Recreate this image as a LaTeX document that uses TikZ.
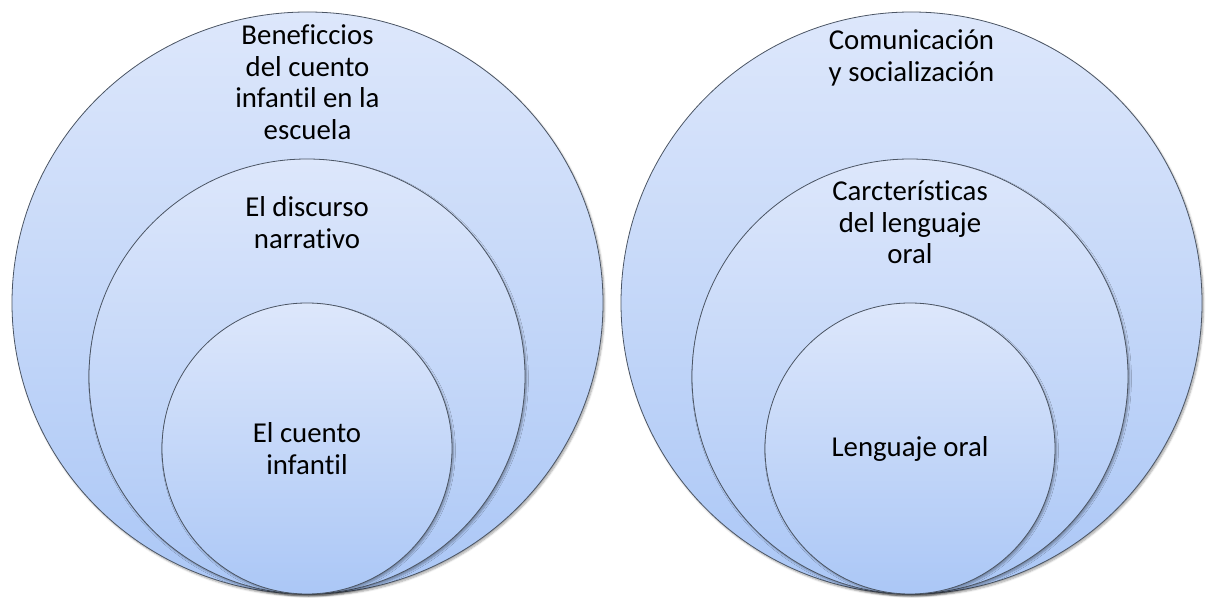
\documentclass[tikz,border=0pt]{standalone}
\usepackage{fontspec}
\setmainfont{Carlito}[Ligatures=NoCommon]
\usetikzlibrary{shapes.geometric,shadows.blur,positioning}
\definecolor{ringtop}{RGB}{221,231,251}
\definecolor{ringbot}{RGB}{171,199,246}
\definecolor{ringline}{RGB}{75,85,100}
\begin{document}
\begin{tikzpicture}[x=1pt,y=1pt,
    ring/.style={ellipse,draw=ringline,line width=0.8pt,top color=ringtop,bottom color=ringbot,inner sep=0pt,
        blur shadow={shadow xshift=1.5pt,shadow yshift=-2pt,shadow blur steps=6,shadow opacity=35}},
    lbl/.style={align=center,inner sep=0pt,font=\fontsize{28.8}{31.5}\selectfont}]
    \useasboundingbox (0,0) rectangle (1209,597);
    % left rings
    \node[ring,minimum width=591pt,minimum height=582pt] (outerL) at (307.5,294) {};
    \node[ring,minimum width=436pt,minimum height=435pt] (midL) at (307,220.5) {};
    \node[ring,minimum width=290pt,minimum height=291pt] (innerL) at (307,148.5) {};
    \node[lbl,below=13pt of outerL.north] (txtOuterL) {Beneficcios\\del cuento\\infantil en la\\escuela};
    \node[lbl,below=38pt of midL.north] (txtMidL) {El discurso\\narrativo};
    \node[lbl] (txtInnerL) at (innerL.center) {El cuento\\infantil};
    % right rings
    \node[ring,minimum width=581pt,minimum height=582pt] (outerR) at (911.5,294) {};
    \node[ring,minimum width=436pt,minimum height=435pt] (midR) at (910,220.5) {};
    \node[ring,minimum width=290pt,minimum height=291pt] (innerR) at (910,148.5) {};
    \node[lbl,below=18pt of outerR.north] (txtOuterR) {Comunicación\\y socialización};
    \node[lbl,below=22pt of midR.north] (txtMidR) {Carcterísticas\\del lenguaje\\oral};
    \node[lbl] (txtInnerR) at (innerR.center) {Lenguaje oral};
\end{tikzpicture}
\end{document}
